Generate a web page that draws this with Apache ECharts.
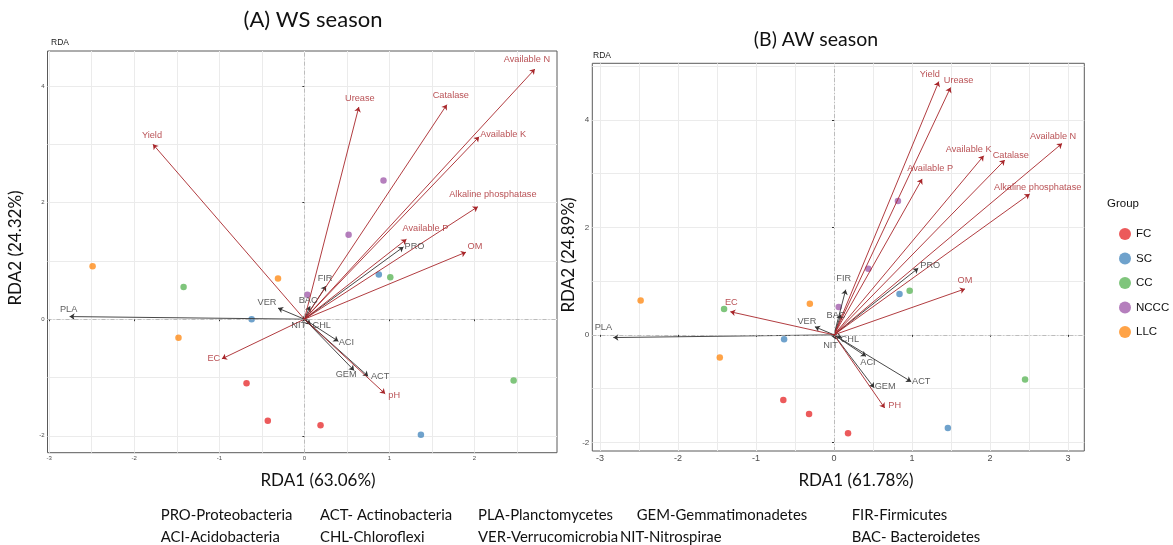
<!DOCTYPE html>
<html>
<head>
<meta charset="utf-8">
<script src="https://cdn.jsdelivr.net/npm/echarts@6/dist/echarts.min.js"></script>
<style>
  html, body { margin: 0; padding: 0; background: #fff; }
  #main { width: 1173px; height: 545px; }
</style>
</head>
<body>
<div id="main"></div>
<script>
// ---- data ----
const groups = ['FC', 'SC', 'CC', 'NCCC', 'LLC'];

// (A) WS season sample scores
const wsFC = [[-0.68, -1.10], [-0.43, -1.74], [0.19, -1.82]];
const wsSC = [[-0.62, 0.00], [0.875, 0.765], [1.37, -1.98]];
const wsCC = [[-1.42, 0.55], [1.01, 0.72], [2.46, -1.05]];
const wsNCCC = [[0.035, 0.42], [0.52, 1.45], [0.93, 2.38]];
const wsLLC = [[-2.49, 0.91], [-0.31, 0.70], [-1.48, -0.32]];

// (B) AW season sample scores
const awFC = [[-0.65, -1.21], [-0.32, -1.47], [0.18, -1.83]];
const awSC = [[-0.64, -0.08], [0.84, 0.76], [1.46, -1.73]];
const awCC = [[-1.41, 0.48], [0.97, 0.82], [2.45, -0.83]];
const awNCCC = [[0.06, 0.52], [0.44, 1.23], [0.82, 2.49]];
const awLLC = [[-2.48, 0.64], [-0.31, 0.58], [-1.465, -0.42]];

// environmental factors (red arrows)
const wsEnvNames = ['Yield', 'Urease', 'Catalase', 'Available N', 'Available K', 'Alkaline phosphatase', 'Available P', 'OM', 'pH', 'EC'];
const wsEnv = [[-1.78, 3.00], [0.64, 3.64], [1.675, 3.68], [2.71, 4.29], [2.055, 3.13], [2.04, 1.93], [1.20, 1.37], [1.90, 1.15], [0.95, -1.28], [-0.97, -0.68]];
const awEnvNames = ['Yield', 'Urease', 'Available K', 'Catalase', 'Available N', 'Available P', 'Alkaline phosphatase', 'OM', 'PH', 'EC'];
const awEnv = [[1.344, 4.71], [1.495, 4.60], [1.92, 3.33], [2.19, 3.25], [2.925, 3.56], [1.13, 2.90], [2.51, 2.62], [1.68, 0.855], [0.65, -1.36], [-1.33, 0.43]];

// phyla (black arrows)
const taxaNames = ['PRO', 'ACT', 'PLA', 'GEM', 'FIR', 'ACI', 'CHL', 'VER', 'NIT', 'BAC'];
const wsTaxa = [[1.165, 1.24], [0.75, -0.98], [-2.76, 0.045], [0.585, -0.88], [0.255, 0.57], [0.40, -0.38], [0.075, -0.09], [-0.31, 0.19], [-0.02, -0.04], [0.067, 0.22]];
const awTaxa = [[1.08, 1.24], [0.99, -0.87], [-2.83, -0.05], [0.515, -0.985], [0.15, 0.84], [0.41, -0.40], [0.10, -0.05], [-0.245, 0.15], [0.02, -0.08], [0.09, 0.38]];

// axis ticks
const wsXTicks = [-3, -2, -1, 0, 1, 2];
const wsYTicks = [-2, 0, 2, 4];
const awXTicks = [-3, -2, -1, 0, 1, 2, 3];
const awYTicks = [-2, 0, 2, 4];
const xGridVals = [-3, -2.5, -2, -1.5, -1, -0.5, 0, 0.5, 1, 1.5, 2, 2.5, 3];
const yGridVals = [-2, -1, 0, 1, 2, 3, 4, 5];

const footerRow1 = ['PRO-Proteobacteria', 'ACT- Actinobacteria', 'PLA-Planctomycetes', 'GEM-Gemmatimonadetes', 'FIR-Firmicutes'];
const footerRow2 = ['ACI-Acidobacteria', 'CHL-Chloroflexi', 'VER-Verrucomicrobia', 'NIT-Nitrospirae', 'BAC- Bacteroidetes'];

// ---- styling / layout ----
const groupColors = ['#e41a1c', '#377eb8', '#4daf4a', '#984ea3', '#ff7f00'];
const RED = '#a8262a';
const DARK = '#333333';
const ARIAL = 'Liberation Sans, Arial, sans-serif';
const CAL = 'Lato, Open Sans, sans-serif';

// label offsets in px (label centre relative to arrow tip)
const wsOffsets = {
  'Yield': [-1, -9], 'Urease': [1, -9], 'Catalase': [4, -9], 'Available N': [-8, -10],
  'Available K': [24, -2], 'Alkaline phosphatase': [15, -12], 'Available P': [19, -11],
  'OM': [9, -6], 'pH': [9, 2], 'EC': [-8, 0],
  'PRO': [11, 0], 'ACT': [12, 0], 'PLA': [-1, -7], 'GEM': [-8, 4], 'FIR': [-1, -7],
  'ACI': [8, 1], 'CHL': [11, 1], 'VER': [-11, -6], 'NIT': [-4, 4], 'BAC': [-2, -6]
};
const awOffsets = {
  'Yield': [-9, -7], 'Urease': [8, -7], 'Available K': [-15, -6], 'Catalase': [6, -5],
  'Available N': [-9, -7], 'Available P': [8, -10], 'Alkaline phosphatase': [8, -7],
  'OM': [0, -8], 'PH': [10, -3], 'EC': [1, -9],
  'PLA': [-10, -10], 'VER': [-8, -5], 'FIR': [-2, -11], 'BAC': [-5, 1], 'NIT': [-5, 6],
  'CHL': [8, 2], 'PRO': [12, -3], 'ACI': [2, 6], 'GEM': [11, -1], 'ACT': [10, 0]
};

const panels = [
  {
    grid: { left: 47.5, top: 51, width: 509.5, height: 401.7 },
    xr: [-3.02, 2.97], yr: [-2.29, 4.60], xTicks: wsXTicks, yTicks: wsYTicks,
    xFont: 6, yFont: 6,
    points: [wsFC, wsSC, wsCC, wsNCCC, wsLLC],
    envNames: wsEnvNames, env: wsEnv, taxa: wsTaxa, offsets: wsOffsets
  },
  {
    grid: { left: 592.3, top: 63.3, width: 492, height: 387.7 },
    xr: [-3.10, 3.21], yr: [-2.16, 5.05], xTicks: awXTicks, yTicks: awYTicks,
    xFont: 9, yFont: 8,
    points: [awFC, awSC, awCC, awNCCC, awLLC],
    envNames: awEnvNames, env: awEnv, taxa: awTaxa, offsets: awOffsets
  }
];

const grids = [], xAxes = [], yAxes = [], series = [];

panels.forEach(function (p, i) {
  grids.push(Object.assign({ show: true, borderColor: '#5a5a5a', borderWidth: 1, backgroundColor: '#fff' }, p.grid));
  const gridLine = { show: true, lineStyle: { color: '#ebebeb', width: 1 } };
  // axis 2i: grid lines only
  xAxes.push({
    gridIndex: i, type: 'value', min: p.xr[0], max: p.xr[1],
    axisLine: { show: false }, axisLabel: { show: false },
    axisTick: { show: false, customValues: xGridVals }, splitLine: gridLine
  });
  yAxes.push({
    gridIndex: i, type: 'value', min: p.yr[0], max: p.yr[1],
    axisLine: { show: false }, axisLabel: { show: false },
    axisTick: { show: false, customValues: yGridVals }, splitLine: gridLine
  });
  // axis 2i+1: ticks + labels
  xAxes.push({
    gridIndex: i, type: 'value', min: p.xr[0], max: p.xr[1], position: 'bottom',
    axisLine: { show: false }, splitLine: { show: false },
    axisTick: { show: true, length: 2, customValues: p.xTicks, lineStyle: { color: DARK } },
    axisLabel: { customValues: p.xTicks, fontSize: p.xFont, color: '#4d4d4d', margin: 3, fontFamily: ARIAL }
  });
  yAxes.push({
    gridIndex: i, type: 'value', min: p.yr[0], max: p.yr[1], position: 'left',
    axisLine: { show: false }, splitLine: { show: false },
    axisTick: { show: true, length: 2, customValues: p.yTicks, lineStyle: { color: DARK } },
    axisLabel: { customValues: p.yTicks, fontSize: p.yFont, color: '#4d4d4d', margin: 3, fontFamily: ARIAL }
  });

  const xi = 2 * i, yi = 2 * i;

  // zero reference lines
  series.push({
    type: 'scatter', xAxisIndex: xi, yAxisIndex: yi, data: [], silent: true, z: 1,
    markLine: {
      silent: true, symbol: ['none', 'none'], label: { show: false },
      lineStyle: { color: '#b0b0b0', type: [4, 2, 1, 2], width: 0.8 },
      data: [{ xAxis: 0 }, { yAxis: 0 }]
    }
  });

  // sample points
  groups.forEach(function (g, gi) {
    series.push({
      name: g, type: 'scatter', xAxisIndex: xi, yAxisIndex: yi, z: 3,
      symbolSize: 6.5, data: p.points[gi],
      itemStyle: { color: groupColors[gi], opacity: 0.72 }
    });
  });

  // arrows
  function arrowSeries(names, pts, color, z) {
    series.push({
      type: 'lines', coordinateSystem: 'cartesian2d', xAxisIndex: xi, yAxisIndex: yi, z: z,
      silent: true, symbol: ['none', 'arrow'], symbolSize: [0, 5],
      lineStyle: { color: color, width: 0.9, opacity: 1 },
      data: pts.map(function (pt) { return { coords: [[0, 0], pt] }; })
    });
    series.push({
      type: 'scatter', xAxisIndex: xi, yAxisIndex: yi, z: 5, silent: true,
      symbolSize: 1, itemStyle: { color: 'rgba(0,0,0,0)' },
      data: pts.map(function (pt, k) {
        return {
          name: names[k], value: pt,
          label: { offset: p.offsets[names[k]] || [0, -8] }
        };
      }),
      label: {
        show: true, position: 'inside', formatter: '{b}',
        fontSize: 9.2, color: color, fontFamily: ARIAL
      }
    });
  }
  arrowSeries(taxaNames, p.taxa, DARK, 4);
  arrowSeries(p.envNames, p.env, RED, 4);
});

// ---- text decorations ----
const graphics = [
  { type: 'text', x: 313, y: 20, style: { text: '(A) WS season', fontSize: 22, fontFamily: CAL, fill: '#111', align: 'center', verticalAlign: 'middle' } },
  { type: 'text', x: 816, y: 40, style: { text: '(B) AW season', fontSize: 19.5, fontFamily: CAL, fill: '#111', align: 'center', verticalAlign: 'middle' } },
  { type: 'text', left: 51, top: 38, style: { text: 'RDA', fontSize: 8.5, fontFamily: ARIAL, fill: '#222' } },
  { type: 'text', left: 593, top: 51, style: { text: 'RDA', fontSize: 8.5, fontFamily: ARIAL, fill: '#222' } },
  { type: 'text', x: 318, y: 481, style: { text: 'RDA1 (63.06%)', fontSize: 17, fontFamily: CAL, fill: '#111', align: 'center', verticalAlign: 'middle' } },
  { type: 'text', x: 856, y: 481, style: { text: 'RDA1 (61.78%)', fontSize: 17, fontFamily: CAL, fill: '#111', align: 'center', verticalAlign: 'middle' } },
  { type: 'text', x: 16, y: 248, rotation: Math.PI / 2, style: { text: 'RDA2 (24.32%)', fontSize: 17, fontFamily: CAL, fill: '#111', align: 'center', verticalAlign: 'middle' } },
  { type: 'text', x: 569, y: 255, rotation: Math.PI / 2, style: { text: 'RDA2 (24.89%)', fontSize: 17, fontFamily: CAL, fill: '#111', align: 'center', verticalAlign: 'middle' } },
  { type: 'text', left: 1107, top: 198, style: { text: 'Group', fontSize: 11.5, fontFamily: ARIAL, fill: '#111' } }
];
const footerX = [160.7, 320, 478, 636.7, 851.7];
const footerX2 = [160.7, 320, 478, 620, 851.7];
function footerText(t, x, y) {
  return { type: 'text', x: x, y: y, scaleX: 0.93, style: { text: t, fontSize: 16, fontFamily: CAL, fill: '#111', verticalAlign: 'middle' } };
}
footerRow1.forEach(function (t, k) { graphics.push(footerText(t, footerX[k], 515)); });
footerRow2.forEach(function (t, k) { graphics.push(footerText(t, footerX2[k], 537)); });

const chart = echarts.init(document.getElementById('main'), null, { renderer: 'canvas' });
chart.setOption({
  animation: false,
  backgroundColor: '#fff',
  grid: grids,
  xAxis: xAxes,
  yAxis: yAxes,
  legend: {
    data: groups, orient: 'vertical', left: 1114, top: 223,
    icon: 'circle', itemWidth: 12, itemHeight: 12, itemGap: 12.5,
    textStyle: { fontSize: 11.5, fontFamily: ARIAL, color: '#111' }
  },
  graphic: graphics,
  series: series
});
</script>
</body>
</html>
